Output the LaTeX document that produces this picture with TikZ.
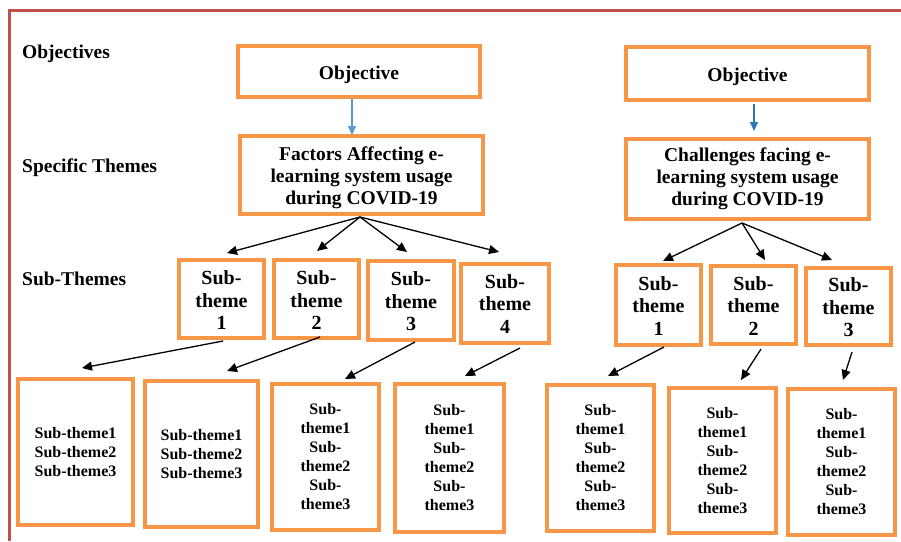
\documentclass[tikz,border=0pt]{standalone}
\usepackage{fontspec}
\setmainfont{Liberation Serif}
\usetikzlibrary{arrows.meta}
\definecolor{boxorange}{HTML}{F79646}
\definecolor{framered}{HTML}{C0504D}
\definecolor{blueA}{HTML}{5B9BD5}
\definecolor{blueB}{HTML}{2E75B6}
\newcommand\dn[2]{\raisebox{-#1}[\height][\depth]{\begin{tabular}{@{}c@{}}#2\end{tabular}}}
\begin{document}
\begin{tikzpicture}[x=1pt,y=-1pt,
  box/.style={draw=boxorange, line width=4pt, inner sep=0pt, align=center, fill=white},
  bigtxt/.style={font=\bfseries\fontsize{19.5}{22}\selectfont},
  subtxt/.style={font=\bfseries\fontsize{20}{22.5}\selectfont},
  smalltxt/.style={font=\bfseries\fontsize{16}{19}\selectfont},
  lbl/.style={anchor=base west, inner sep=0pt, font=\bfseries\fontsize{19.5}{22}\selectfont},
  arr/.style={line width=1.3pt, -{Triangle[length=10pt,width=9pt]}},
  barr/.style={line width=1.3pt, -{Triangle[length=9pt,width=8pt]}}
]
\useasboundingbox (0,0) rectangle (901,541);
\fill[white] (0,0) rectangle (901,541);
% frame
\draw[framered, line width=3pt] (9,541) -- (9,10) -- (901,10);

% labels
\node[lbl] (l1) at (22,58) {Objectives};
\node[lbl] (l2) at (22,172) {Specific Themes};
\node[lbl] (l3) at (22,285) {Sub-Themes};

% top level
\node[box, bigtxt, minimum width=242pt, minimum height=51pt] (obj1) at (359,71.5) {\dn{4pt}{Objective}};
\node[box, bigtxt, minimum width=243pt, minimum height=78pt] (fac) at (361.5,175) {\dn{3pt}{Factors Affecting e-\\learning system usage\\during COVID-19}};
\node[box, bigtxt, minimum width=243pt, minimum height=53pt] (obj2) at (747.5,73.5) {\dn{4pt}{Objective}};
\node[box, bigtxt, minimum width=243pt, minimum height=80pt] (chal) at (747.5,179) {\dn{0pt}{Challenges facing e-\\learning system usage\\during COVID-19}};

% sub-themes left
\node[box, subtxt, minimum width=85pt, minimum height=78pt] (st1) at (221.5,299) {\dn{3.5pt}{Sub-\\theme\\1}};
\node[box, subtxt, minimum width=85pt, minimum height=78pt] (st2) at (316.5,299) {\dn{3.5pt}{Sub-\\theme\\2}};
\node[box, subtxt, minimum width=86pt, minimum height=79pt] (st3) at (411,300.5) {\dn{3pt}{Sub-\\theme\\3}};
\node[box, subtxt, minimum width=88pt, minimum height=79pt] (st4) at (505,303.5) {\dn{2.5pt}{Sub-\\theme\\4}};
% sub-themes right
\node[box, subtxt, minimum width=85pt, minimum height=80pt] (rst1) at (658.5,305) {\dn{3pt}{Sub-\\theme\\1}};
\node[box, subtxt, minimum width=85pt, minimum height=78pt] (rst2) at (753.5,305) {\dn{3pt}{Sub-\\theme\\2}};
\node[box, subtxt, minimum width=85pt, minimum height=77pt] (rst3) at (848.5,306.5) {\dn{3pt}{Sub-\\theme\\3}};

% bottom boxes
\node[box, smalltxt, minimum width=115pt, minimum height=146pt] (b1) at (75.5,452) {Sub-theme1\\Sub-theme2\\Sub-theme3};
\node[box, smalltxt, minimum width=113pt, minimum height=146pt] (b2) at (201.5,454) {Sub-theme1\\Sub-theme2\\Sub-theme3};
\node[box, smalltxt, minimum width=107pt, minimum height=146pt] (b3) at (325.5,457) {Sub-\\theme1\\Sub-\\theme2\\Sub-\\theme3};
\node[box, smalltxt, minimum width=109pt, minimum height=148pt] (b4) at (449.5,458) {Sub-\\theme1\\Sub-\\theme2\\Sub-\\theme3};
\node[box, smalltxt, minimum width=107pt, minimum height=146pt] (rb1) at (600.5,458) {Sub-\\theme1\\Sub-\\theme2\\Sub-\\theme3};
\node[box, smalltxt, minimum width=107pt, minimum height=145pt] (rb2) at (722.5,460.5) {Sub-\\theme1\\Sub-\\theme2\\Sub-\\theme3};
\node[box, smalltxt, minimum width=107pt, minimum height=146pt] (rb3) at (841.5,462) {Sub-\\theme1\\Sub-\\theme2\\Sub-\\theme3};

% blue arrows
\draw[barr, blueA] ([xshift=-7pt]obj1.south) -- ([xshift=-9.5pt,yshift=-1pt]fac.north);
\draw[barr, blueB] ([xshift=6.5pt,yshift=-2pt]obj2.south) -- ([xshift=6.5pt,yshift=6pt]chal.north);

% factors arrows
\draw[arr] ([xshift=-1.5pt,yshift=-1pt]fac.south) -- ([xshift=5.5pt,yshift=5pt]st1.north);
\draw[arr] ([xshift=-1.5pt,yshift=-1pt]fac.south) -- ([xshift=0.5pt,yshift=7pt]st2.north);
\draw[arr] ([xshift=-1.5pt,yshift=-1pt]fac.south) -- ([xshift=-4pt,yshift=7pt]st3.north);
\draw[arr] ([xshift=-1.5pt,yshift=-1pt]fac.south) -- ([xshift=-6pt,yshift=10pt]st4.north);

% challenges arrows
\draw[arr] ([xshift=-5.5pt,yshift=-2pt]chal.south) -- ([xshift=4.5pt,yshift=2pt]rst1.north);
\draw[arr] ([xshift=-5.5pt,yshift=-2pt]chal.south) -- ([xshift=11.5pt,yshift=4pt]rst2.north);
\draw[arr] ([xshift=-5.5pt,yshift=-2pt]chal.south) -- ([xshift=-16.5pt,yshift=6pt]rst3.north);

% second level arrows
\draw[arr] ([xshift=1.5pt,yshift=-1pt]st1.south) -- ([xshift=6.5pt,yshift=9pt]b1.north);
\draw[arr] ([xshift=3.5pt,yshift=3pt]st2.south) -- ([xshift=25.5pt,yshift=8pt]b2.north);
\draw[arr] ([xshift=4pt,yshift=0pt]st3.south) -- ([xshift=19.5pt,yshift=3pt]b3.north);
\draw[arr] ([xshift=15pt,yshift=-3pt]st4.south) -- ([xshift=15.5pt,yshift=6pt]b4.north);
\draw[arr] ([xshift=5.5pt,yshift=0pt]rst1.south) -- ([xshift=7.5pt,yshift=7pt]rb1.north);
\draw[arr] ([xshift=7.5pt,yshift=-3pt]rst2.south) -- ([xshift=18.5pt,yshift=6pt]rb2.north);
\draw[arr] ([xshift=3.5pt,yshift=-5pt]rst3.south) -- ([xshift=1.5pt,yshift=7pt]rb3.north);
\end{tikzpicture}
\end{document}
